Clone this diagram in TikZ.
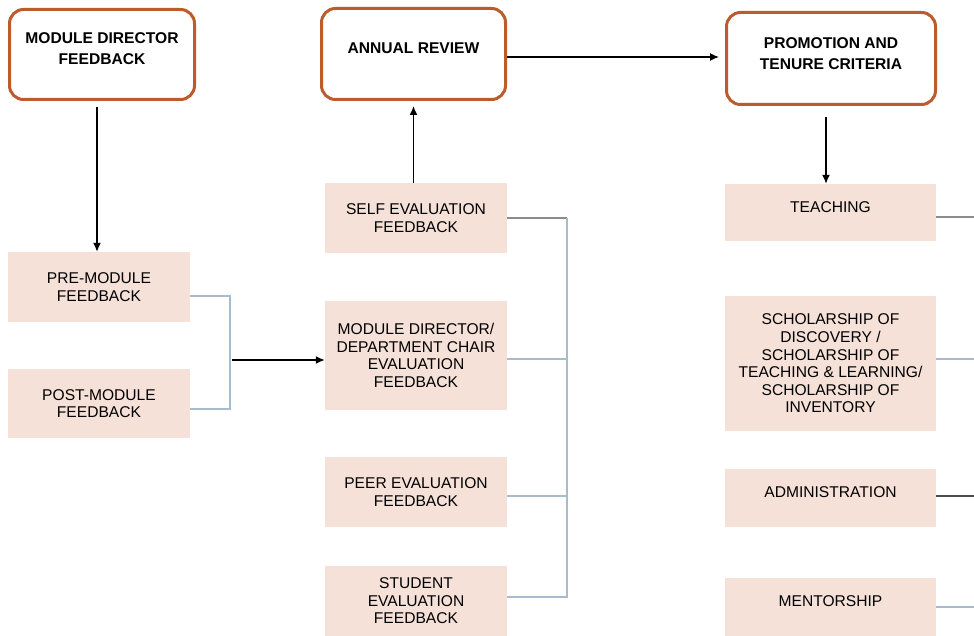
\documentclass[tikz,border=0pt]{standalone}
\usepackage{fontspec}
\setmainfont{Liberation Sans}
\usetikzlibrary{arrows.meta}
\definecolor{rust}{HTML}{BC5B2C}
\definecolor{blush}{HTML}{F5E1D8}
\definecolor{steel}{HTML}{A7BDCC}
\definecolor{ash}{HTML}{8C8C8C}
\begin{document}
\begin{tikzpicture}[x=1pt,y=-1pt,
  headbox/.style={draw=rust,line width=3pt,rounded corners=14pt,fill=white,inner sep=0pt},
  headtext/.style={inner sep=0pt,align=center,font=\fontsize{15.6}{21}\selectfont\bfseries},
  itembox/.style={fill=blush,draw=none,inner sep=0pt,align=center,font=\fontsize{15.6}{17.6}\selectfont},
  itemtext/.style={inner sep=0pt,align=center,font=\fontsize{15.6}{17.6}\selectfont},
  arr/.style={draw=black,line width=1.4pt,-{Latex[length=9pt,width=8pt]}},
  blueline/.style={draw=steel,line width=1.2pt},
  grayline/.style={draw=ash,line width=1.2pt}]
\useasboundingbox (0,0) rectangle (974,636);

% top row: rounded headings
\node[headbox,minimum width=185pt,minimum height=90pt] (mdf) at (102,54.5) {};
\node[headtext] (mdfT) at ([yshift=6pt]mdf.center) {MODULE DIRECTOR\\FEEDBACK};
\node[headbox,minimum width=184pt,minimum height=91pt] (ar) at (413.5,54) {};
\node[headtext] (arT) at ([yshift=6pt]ar.center) {ANNUAL REVIEW};
\node[headbox,minimum width=209pt,minimum height=92pt] (pt) at (831,58.5) {};
\node[headtext] (ptT) at ([yshift=5pt]pt.center) {PROMOTION AND\\TENURE CRITERIA};

% left column
\node[itembox,minimum width=182pt,minimum height=70pt] (pre) at (99,287) {PRE-MODULE\\FEEDBACK};
\node[itembox,minimum width=182pt,minimum height=69pt] (post) at (99,403.5) {POST-MODULE\\FEEDBACK};

% middle column
\node[itembox,minimum width=182pt,minimum height=70pt] (self) at (416,218) {SELF EVALUATION\\FEEDBACK};
\node[itembox,minimum width=182pt,minimum height=109pt] (mddc) at (416,355.5) {MODULE DIRECTOR/\\DEPARTMENT CHAIR\\EVALUATION\\FEEDBACK};
\node[itembox,minimum width=182pt,minimum height=70pt] (peer) at (416,492) {PEER EVALUATION\\FEEDBACK};
\node[itembox,minimum width=182pt,minimum height=70pt] (stud) at (416,601) {STUDENT\\EVALUATION\\FEEDBACK};

% right column
\node[itembox,minimum width=211pt,minimum height=57pt] (teach) at (830.5,212.5) {};
\node[itemtext] (teachT) at ([yshift=5.5pt]teach.center) {TEACHING};
\node[itembox,minimum width=211pt,minimum height=135pt] (schol) at (830.5,363.5) {SCHOLARSHIP OF\\DISCOVERY /\\SCHOLARSHIP OF\\TEACHING \& LEARNING/\\SCHOLARSHIP OF\\INVENTORY};
\node[itembox,minimum width=211pt,minimum height=58pt] (admin) at (830.5,498) {};
\node[itemtext] (adminT) at ([yshift=6pt]admin.center) {ADMINISTRATION};
\node[itembox,minimum width=211pt,minimum height=58pt] (ment) at (830.5,607) {};
\node[itemtext] (mentT) at ([yshift=6pt]ment.center) {MENTORSHIP};

% junction points and free ends
\coordinate (lj) at (230,360);
\coordinate (rj) at (567,218);
\coordinate (e1) at (974,217);
\coordinate (e2) at (974,359);
\coordinate (e3) at (974,496);
\coordinate (e4) at (974,607);

% arrows
\draw[arr,shorten <=6pt] ([xshift=-5pt]mdf.south) -- ([xshift=-2pt]pre.north);
\draw[arr,shorten >=5pt] (ar.south |- self.north) -- (ar.south);
\draw[arr,shorten >=6pt] ([yshift=-3pt]ar.east) -- ([yshift=-3pt]ar.east -| pt.west);
\draw[arr,shorten <=11pt] ([xshift=-5pt]pt.south) -- ([xshift=-5pt]pt.south |- teach.north);
\draw[arr,shorten <=2pt] (lj) -- ([yshift=-4.5pt]mddc.west);

% left bracket
\draw[blueline] ([yshift=-9pt]pre.east) -| (lj) |- ([yshift=-5.5pt]post.east);

% middle bracket
\draw[grayline] (self.east) -- (rj);
\draw[blueline] (rj) |- ([yshift=4pt]stud.east);
\draw[blueline] ([yshift=-3.5pt]mddc.east) -- ([yshift=-3.5pt]mddc.east -| rj);
\draw[blueline] ([yshift=-4pt]peer.east) -- ([yshift=-4pt]peer.east -| rj);

% stubs leaving the right column
\draw[grayline] (teach.east |- e1) -- (e1);
\draw[blueline] (schol.east |- e2) -- (e2);
\draw[draw=black!70,line width=1.2pt] (admin.east |- e3) -- (e3);
\draw[blueline] (ment.east |- e4) -- (e4);
\end{tikzpicture}
\end{document}
